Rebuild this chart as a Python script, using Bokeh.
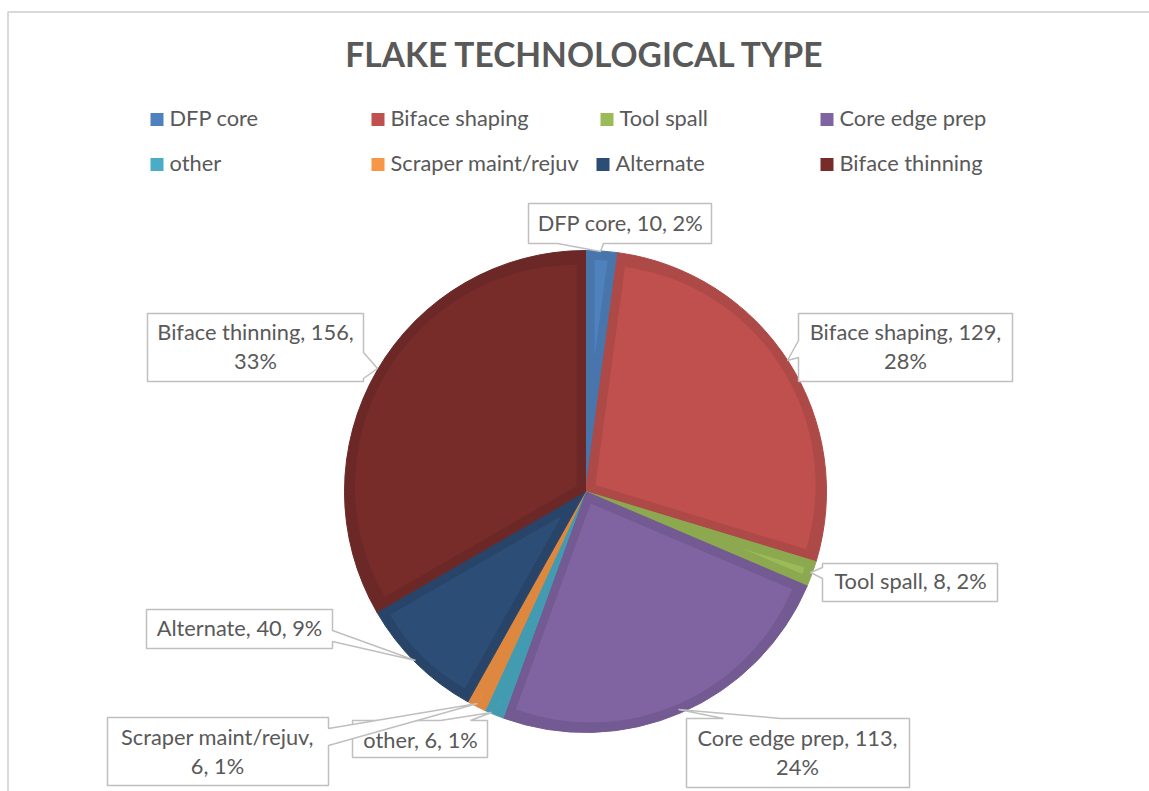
import math
from bokeh.plotting import figure
from bokeh.models import Range1d, ColumnDataSource
from bokeh.core.properties import value
from bokeh.embed import file_html
from bokeh.resources import INLINE

# ---------------- data ----------------
categories = ["DFP core", "Biface shaping", "Tool spall", "Core edge prep",
              "other", "Scraper maint/rejuv", "Alternate", "Biface thinning"]
counts = [10, 129, 8, 113, 6, 6, 40, 156]
colors = ["#4F81BD", "#C0504D", "#9BBB59", "#8064A2",
          "#4BACC6", "#F79646", "#2C4D75", "#772C2A"]
edge_colors = ["#4775AC", "#AD4946", "#8CA950", "#735A92",
               "#439BB2", "#DE873F", "#284569", "#6B2826"]
title = "FLAKE TECHNOLOGICAL TYPE"

# ---------------- layout ----------------
W, H = 1149, 791
FONT = "Lato"
TXT = "#595959"
GRAY = "#BFBFBF"
TY = -2  # vertical text nudge (pixels, negative = up)

def Y(py):
    return H - py

p = figure(width=W, height=H, output_backend="svg", toolbar_location=None,
           x_range=Range1d(0, W), y_range=Range1d(0, H), min_border=0)
p.axis.visible = False
p.grid.visible = False
p.outline_line_color = None
p.background_fill_color = "white"
p.border_fill_color = "white"

# chart area frame (cropped)
p.line([7.5, 7.5, W], [Y(791), Y(11.5), Y(11.5)], line_color="#D9D9D9", line_width=2)

# title
p.text(x=[585], y=[Y(55 + TY)], text=[title], text_font=value(FONT), text_font_style="bold",
       text_font_size="33.5px", text_color=TXT, text_align="center", text_baseline="middle")

# legend
sq_x = [[150, 371, 600, 820], [150, 371, 596, 820]]
row_y = [119, 164]
lx, ly, lc, tx, ty, tt = [], [], [], [], [], []
for i, cat in enumerate(categories):
    r, c = divmod(i, 4)
    x0 = sq_x[r][c]
    lx.append(x0 + 6.5); ly.append(Y(row_y[r])); lc.append(colors[i])
    tx.append(x0 + 19); ty.append(Y(row_y[r] + TY)); tt.append(cat)
p.rect(x=lx, y=ly, width=13, height=13, fill_color=lc, line_color=None)
p.text(x=tx, y=ty, text=tt, text_font=value(FONT), text_font_size="21.8px",
       text_color=TXT, text_align="left", text_baseline="middle")

# pie
cx, cy, R = 585, Y(491), 241
band = 9
total = sum(counts)
cum = 0.0
starts, ends = [], []
for v in counts:
    a0 = cum / total * 2 * math.pi
    cum += v
    a1 = cum / total * 2 * math.pi
    starts.append(a0); ends.append(a1)

src = ColumnDataSource(dict(
    start=[math.pi / 2 - a for a in starts],
    end=[math.pi / 2 - a for a in ends],
    fill=edge_colors))
p.wedge(x=cx, y=cy, radius=R, start_angle="start", end_angle="end", direction="clock",
        fill_color="fill", line_color="fill", line_width=1, source=src)

ix, iy, ir, ist, ien, ic = [], [], [], [], [], []
for a0, a1, col in zip(starts, ends, colors):
    h = (a1 - a0) / 2
    m = (a0 + a1) / 2
    d = band / math.sin(h) if h < math.pi / 2 else 0
    rr = R - band - d
    if rr <= 2:
        continue
    ix.append(cx + d * math.sin(m)); iy.append(cy + d * math.cos(m)); ir.append(rr)
    ist.append(math.pi / 2 - a0); ien.append(math.pi / 2 - a1); ic.append(col)
p.wedge(x=ix, y=iy, radius=ir, start_angle=ist, end_angle=ien, direction="clock",
        fill_color=ic, line_color=None)

# data labels (callouts): box (x0,y0,x1,y1), pointer side, base positions, tip,
# text centre x, line centre ys, parts on first line
callouts = [
    ((528, 203, 711, 243), "bottom", (603, 557), (600, 251), 620, [224], 3),
    ((798, 313, 1012, 381), "left", (357, 340), (787, 360), 905, [333, 362], 2),
    ((822, 563, 997, 601), "left", (578, 567), (810, 572), 910, [582], 3),
    ((686, 718, 909, 787), "top", (723, 780), (678, 709), 797, [739, 768], 2),
    ((352, 720, 487, 757), "top", (440, 470), (491, 712), 420, [741], 3),
    ((107, 717, 328, 785), "right", (728, 745), (477, 703), 217, [738, 767], 1),
    ((146, 609, 332, 648), "right", (630, 641), (415, 660), 239, [629], 3),
    ((147, 313, 363, 381), "right", (352, 378), (377, 368), 255, [333, 362], 2),
]

pxs, pys = [], []
lab_x, lab_y, lab_t = [], [], []
for i, (box, side, base, tip, tcx, cys, n1) in enumerate(callouts):
    x0, y0, x1, y1 = box
    pts = [(x0, y0)]
    if side == "top":
        pts += [(base[0], y0), tip, (base[1], y0)]
    pts.append((x1, y0))
    if side == "right":
        pts += [(x1, base[0]), tip, (x1, base[1])]
    pts.append((x1, y1))
    if side == "bottom":
        pts += [(base[0], y1), tip, (base[1], y1)]
    pts.append((x0, y1))
    if side == "left":
        pts += [(x0, base[0]), tip, (x0, base[1])]
    pts.append((x0, y0))
    pxs.append([q[0] for q in pts]); pys.append([Y(q[1]) for q in pts])

    pct = round(counts[i] / total * 100)
    parts = [categories[i], str(counts[i]), f"{pct}%"]
    full = ", ".join(parts)
    if len(cys) == 1:
        lines = [full]
    else:
        lines = [", ".join(parts[:n1]) + ",", ", ".join(parts[n1:])]
    for ln, yy in zip(lines, cys):
        lab_x.append(tcx); lab_y.append(Y(yy + TY)); lab_t.append(ln)

p.patches(xs=pxs, ys=pys, fill_color="white", line_color=GRAY, line_width=1.5)
p.text(x=lab_x, y=lab_y, text=lab_t, text_font=value(FONT), text_font_size="21.8px",
       text_color=TXT, text_align="center", text_baseline="middle")

open("out.html", "w").write(file_html(p, INLINE))
